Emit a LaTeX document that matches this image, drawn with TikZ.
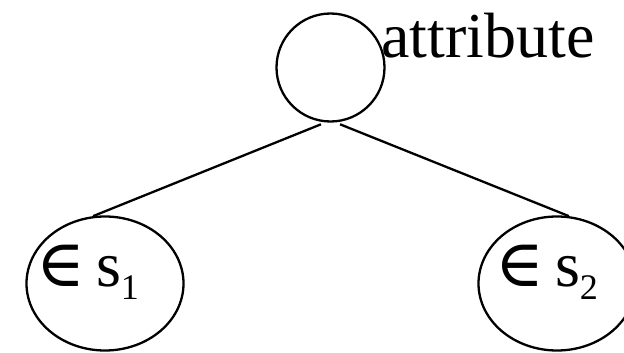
\documentclass[tikz,border=0pt]{standalone}
\usepackage{fontspec}
\setmainfont{Liberation Serif}
\newfontfamily\symfont{DejaVu Serif}
\usetikzlibrary{shapes.geometric}
\tikzset{
  edge/.style={line width=2.3pt},
  rootnode/.style={circle, draw, line width=2.3pt, inner sep=0pt, minimum size=108pt},
  leafnode/.style={ellipse, draw, line width=2.3pt, inner sep=0pt, minimum width=157pt, minimum height=134pt},
  bigtext/.style={inner sep=0pt, font=\fontsize{64}{64}\selectfont},
}
\newcommand{\subtxt}[1]{\raisebox{-13pt}{\fontsize{36}{36}\selectfont #1}}
\newcommand{\elem}{{\symfont\fontsize{66}{66}\selectfont ∈}}
\begin{document}
\begin{tikzpicture}[x=1pt, y=-1pt]
  \useasboundingbox (0,0) rectangle (624,353);
  \clip (0,0) rectangle (624,353);
  % tree nodes
  \node[rootnode] (root) at (330.5,67.5) {};
  \node[leafnode] (left) at (105,283.5) {};
  \node[leafnode] (right) at (557,283.5) {};
  % labels
  \node[bigtext, anchor=base west] (attr) at (381,58) {attribute};
  \node[bigtext, anchor=base west] (lab1) at (36,286) {\elem\hspace{11pt}s\subtxt{1}};
  \node[bigtext, anchor=base west] (lab2) at (495,286) {\elem\hspace{11pt}s\subtxt{2}};
  % branches
  \coordinate (rl) at ([yshift=-2.5pt]root.260);
  \coordinate (rr) at ([yshift=-2.5pt]root.280);
  \draw[edge] (rl) -- (left.100);
  \draw[edge] (rr) -- (right.80);
\end{tikzpicture}
\end{document}
